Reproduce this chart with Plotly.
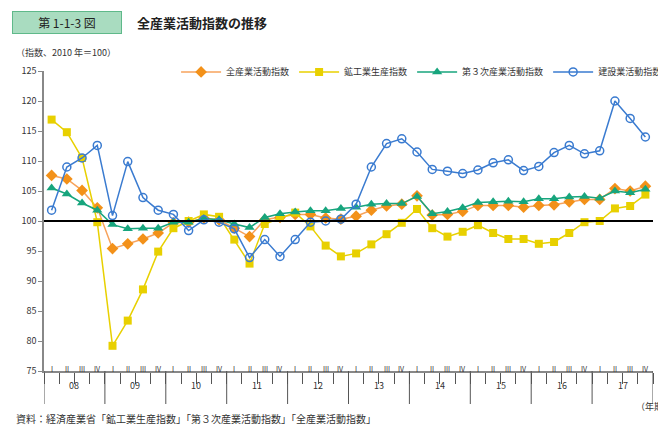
import plotly.graph_objects as go

# quarters 2008 I .. 2017 IV
years = ["08", "09", "10", "11", "12", "13", "14", "15", "16", "17"]
quarters = ["I", "II", "III", "IV"]

all_industry = [107.6, 107.0, 105.1, 102.2, 95.4, 96.2, 97.0, 98.0, 99.7, 99.8,
                100.5, 100.2, 98.8, 97.4, 100.2, 100.6, 101.1, 101.1, 100.5, 100.3,
                100.8, 101.8, 102.5, 102.8, 104.2, 101.0, 101.1, 101.6, 102.6, 102.6,
                102.6, 102.3, 102.6, 102.7, 103.2, 103.6, 103.6, 105.4, 105.0, 105.8]
mining = [116.9, 114.8, 110.5, 99.8, 79.2, 83.4, 88.6, 94.9, 98.8, 100.0,
          101.1, 100.7, 96.9, 92.9, 99.5, 100.5, 101.4, 99.1, 95.9, 94.1,
          94.6, 96.1, 97.8, 99.7, 102.0, 98.8, 97.4, 98.2, 99.3, 98.0,
          97.0, 97.0, 96.2, 96.5, 98.0, 99.8, 100.0, 102.1, 102.5, 104.4]
tertiary = [105.5, 104.5, 103.0, 101.8, 99.4, 98.7, 98.8, 98.8, 99.8, 99.8,
            100.4, 100.2, 99.5, 98.9, 100.6, 101.2, 101.5, 101.7, 101.7, 102.1,
            102.3, 102.8, 102.9, 102.9, 104.1, 101.2, 101.6, 102.2, 103.1, 103.2,
            103.3, 103.2, 103.7, 103.7, 104.0, 104.1, 103.8, 105.0, 104.7, 105.3]
construction = [101.8, 109.0, 110.5, 112.6, 100.9, 109.9, 103.9, 101.8, 101.1, 98.4,
                100.2, 99.8, 98.7, 93.9, 96.9, 94.1, 96.9, 99.8, 100.0, 100.3,
                102.8, 109.0, 112.9, 113.7, 111.5, 108.6, 108.3, 107.9, 108.5, 109.7,
                110.2, 108.4, 109.1, 111.4, 112.6, 111.2, 111.7, 120.0, 117.1, 114.0]

x = list(range(len(all_industry)))
font = "Noto Sans CJK JP"

fig = go.Figure()
fig.add_trace(go.Scatter(x=x, y=all_industry, name="全産業活動指数", mode="lines+markers",
                         line=dict(color="#f7a35c", width=1.5),
                         marker=dict(symbol="diamond", size=9, color="#f39119")))
fig.add_trace(go.Scatter(x=x, y=mining, name="鉱工業生産指数", mode="lines+markers",
                         line=dict(color="#e8d000", width=1.5),
                         marker=dict(symbol="square", size=8, color="#e8d000")))
fig.add_trace(go.Scatter(x=x, y=tertiary, name="第３次産業活動指数", mode="lines+markers",
                         line=dict(color="#17a57d", width=1.5),
                         marker=dict(symbol="triangle-up", size=9, color="#17a57d")))
fig.add_trace(go.Scatter(x=x, y=construction, name="建設業活動指数", mode="lines+markers",
                         line=dict(color="#3a7bd0", width=1.5),
                         marker=dict(symbol="circle-open", size=8, color="#3a7bd0",
                                     line=dict(width=1.5))))

shapes = [dict(type="line", xref="paper", x0=0, x1=1, yref="y", y0=100, y1=100,
               line=dict(color="black", width=2))]
annotations = []
for yi, yr in enumerate(years):
    shapes.append(dict(type="line", xref="x", x0=yi * 4 - 0.5, x1=yi * 4 - 0.5,
                       yref="paper", y0=0, y1=-0.11, line=dict(color="#555", width=1)))
    annotations.append(dict(x=yi * 4 + 1.5, y=-0.075, xref="x", yref="paper", text=yr,
                            showarrow=False, font=dict(size=9, color="#333")))
    for qi, q in enumerate(quarters):
        annotations.append(dict(x=yi * 4 + qi, y=-0.018, xref="x", yref="paper", text=q,
                                showarrow=False, font=dict(size=7, color="#333")))
shapes.append(dict(type="line", xref="x", x0=39.5, x1=39.5, yref="paper", y0=0, y1=-0.11,
                   line=dict(color="#555", width=1)))

annotations += [
    dict(x=-0.052, y=1.2, xref="paper", yref="paper", text="第 1-1-3 図", showarrow=False,
         xanchor="left", yanchor="top", font=dict(size=12, color="#222"),
         bgcolor="#a9dcc0", bordercolor="#5fb98a", borderwidth=1, borderpad=2, width=104),
    dict(x=0.15, y=1.2, xref="paper", yref="paper", text="<b>全産業活動指数の推移</b>",
         showarrow=False, xanchor="left", yanchor="top", font=dict(size=13, color="#222")),
    dict(x=-0.05, y=1.06, xref="paper", yref="paper", text="（指数、2010 年＝100）",
         showarrow=False, xanchor="left", yanchor="middle", font=dict(size=9, color="#333")),
    dict(x=1.034, y=-0.117, xref="paper", yref="paper", text="（年期）",
         showarrow=False, xanchor="right", yanchor="middle", font=dict(size=9, color="#333")),
    dict(x=-0.05, y=-0.157, xref="paper", yref="paper",
         text="資料：経済産業省「鉱工業生産指数」「第３次産業活動指数」「全産業活動指数」",
         showarrow=False, xanchor="left", yanchor="middle", font=dict(size=10, color="#333")),
]

fig.update_layout(
    width=666, height=425, margin=dict(l=36, r=21, t=63, b=62, autoexpand=False),
    paper_bgcolor="white", plot_bgcolor="white",
    font=dict(family=font, size=9, color="#333"),
    showlegend=True,
    legend=dict(orientation="h", x=0.62, xanchor="center", y=0.997, yanchor="middle",
                font=dict(size=9), itemwidth=40, bgcolor="rgba(0,0,0,0)"),
    shapes=shapes, annotations=annotations,
)
fig.update_xaxes(range=[-0.5, 39.5], showgrid=False, zeroline=False, showticklabels=False,
                 tickvals=[v - 0.5 for v in range(41)], ticks="outside", ticklen=11,
                 tickcolor="#555", showline=True, linecolor="#888", linewidth=1.5)
fig.update_yaxes(range=[75, 125], dtick=5, showgrid=False, zeroline=False, ticks="outside",
                 ticklen=4, tickcolor="#888", showline=True, linecolor="#888", linewidth=1.5,
                 tickfont=dict(size=9, color="#333"))

fig.write_html("out.html")
